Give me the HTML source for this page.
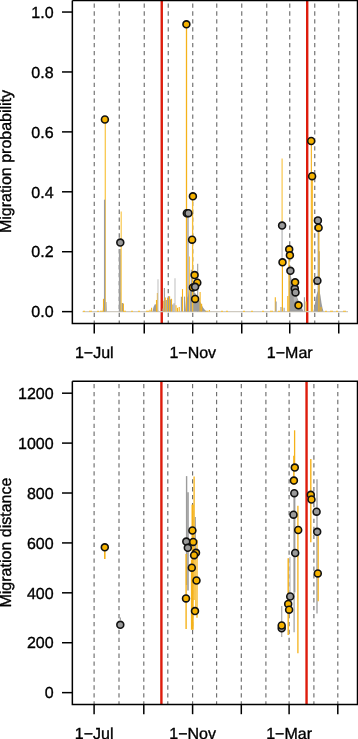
<!DOCTYPE html>
<html><head><meta charset="utf-8"><style>
html,body{margin:0;padding:0;background:#fff;}
svg{display:block;}
text{font-family:"Liberation Sans", sans-serif;font-size:16px;fill:#000;stroke:#000;stroke-width:0.35px;}
svg{text-rendering:geometricPrecision;will-change:transform;}
</style></head><body>
<svg width="358" height="739" viewBox="0 0 358 739">
<rect width="358" height="739" fill="#fff"/>
<line x1="94.25" y1="0.4" x2="94.25" y2="323.6" stroke="#6e6e6e" stroke-width="1.15" stroke-dasharray="4.3 3.63" stroke-dashoffset="4.93"/>
<line x1="119.25" y1="0.4" x2="119.25" y2="323.6" stroke="#6e6e6e" stroke-width="1.15" stroke-dasharray="4.3 3.63" stroke-dashoffset="4.93"/>
<line x1="144.25" y1="0.4" x2="144.25" y2="323.6" stroke="#6e6e6e" stroke-width="1.15" stroke-dasharray="4.3 3.63" stroke-dashoffset="4.93"/>
<line x1="168.25" y1="0.4" x2="168.25" y2="323.6" stroke="#6e6e6e" stroke-width="1.15" stroke-dasharray="4.3 3.63" stroke-dashoffset="4.93"/>
<line x1="192.75" y1="0.4" x2="192.75" y2="323.6" stroke="#6e6e6e" stroke-width="1.15" stroke-dasharray="4.3 3.63" stroke-dashoffset="4.93"/>
<line x1="216.75" y1="0.4" x2="216.75" y2="323.6" stroke="#6e6e6e" stroke-width="1.15" stroke-dasharray="4.3 3.63" stroke-dashoffset="4.93"/>
<line x1="241.75" y1="0.4" x2="241.75" y2="323.6" stroke="#6e6e6e" stroke-width="1.15" stroke-dasharray="4.3 3.63" stroke-dashoffset="4.93"/>
<line x1="266.75" y1="0.4" x2="266.75" y2="323.6" stroke="#6e6e6e" stroke-width="1.15" stroke-dasharray="4.3 3.63" stroke-dashoffset="4.93"/>
<line x1="289.75" y1="0.4" x2="289.75" y2="323.6" stroke="#6e6e6e" stroke-width="1.15" stroke-dasharray="4.3 3.63" stroke-dashoffset="4.93"/>
<line x1="314.75" y1="0.4" x2="314.75" y2="323.6" stroke="#6e6e6e" stroke-width="1.15" stroke-dasharray="4.3 3.63" stroke-dashoffset="4.93"/>
<line x1="338.75" y1="0.4" x2="338.75" y2="323.6" stroke="#6e6e6e" stroke-width="1.15" stroke-dasharray="4.3 3.63" stroke-dashoffset="4.93"/>
<line x1="94.10" y1="381.3" x2="94.10" y2="704.5" stroke="#6e6e6e" stroke-width="1.15" stroke-dasharray="4.3 3.63" stroke-dashoffset="5.23"/>
<line x1="119.00" y1="381.3" x2="119.00" y2="704.5" stroke="#6e6e6e" stroke-width="1.15" stroke-dasharray="4.3 3.63" stroke-dashoffset="5.23"/>
<line x1="143.80" y1="381.3" x2="143.80" y2="704.5" stroke="#6e6e6e" stroke-width="1.15" stroke-dasharray="4.3 3.63" stroke-dashoffset="5.23"/>
<line x1="167.80" y1="381.3" x2="167.80" y2="704.5" stroke="#6e6e6e" stroke-width="1.15" stroke-dasharray="4.3 3.63" stroke-dashoffset="5.23"/>
<line x1="192.60" y1="381.3" x2="192.60" y2="704.5" stroke="#6e6e6e" stroke-width="1.15" stroke-dasharray="4.3 3.63" stroke-dashoffset="5.23"/>
<line x1="216.60" y1="381.3" x2="216.60" y2="704.5" stroke="#6e6e6e" stroke-width="1.15" stroke-dasharray="4.3 3.63" stroke-dashoffset="5.23"/>
<line x1="241.30" y1="381.3" x2="241.30" y2="704.5" stroke="#6e6e6e" stroke-width="1.15" stroke-dasharray="4.3 3.63" stroke-dashoffset="5.23"/>
<line x1="265.90" y1="381.3" x2="265.90" y2="704.5" stroke="#6e6e6e" stroke-width="1.15" stroke-dasharray="4.3 3.63" stroke-dashoffset="5.23"/>
<line x1="289.10" y1="381.3" x2="289.10" y2="704.5" stroke="#6e6e6e" stroke-width="1.15" stroke-dasharray="4.3 3.63" stroke-dashoffset="5.23"/>
<line x1="313.90" y1="381.3" x2="313.90" y2="704.5" stroke="#6e6e6e" stroke-width="1.15" stroke-dasharray="4.3 3.63" stroke-dashoffset="5.23"/>
<line x1="337.80" y1="381.3" x2="337.80" y2="704.5" stroke="#6e6e6e" stroke-width="1.15" stroke-dasharray="4.3 3.63" stroke-dashoffset="5.23"/>
<line x1="161.75" y1="0.4" x2="161.75" y2="323.6" stroke="#DE1C0C" stroke-width="2.4"/>
<line x1="307.2" y1="0.4" x2="307.2" y2="323.6" stroke="#DE1C0C" stroke-width="2.4"/>
<line x1="161.4" y1="381.3" x2="161.4" y2="704.5" stroke="#DE1C0C" stroke-width="2.4"/>
<line x1="306.55" y1="381.3" x2="306.55" y2="704.5" stroke="#DE1C0C" stroke-width="2.4"/>
<line x1="82.5" y1="311.6" x2="348" y2="311.6" stroke="#cfcac0" stroke-width="1.3"/>
<line x1="83" y1="311.3" x2="85" y2="311.3" stroke="#f3c24a" stroke-width="1.2"/>
<line x1="89" y1="311.3" x2="92" y2="311.3" stroke="#f3c24a" stroke-width="1.2"/>
<line x1="97" y1="311.3" x2="99" y2="311.3" stroke="#f3c24a" stroke-width="1.2"/>
<line x1="100" y1="311.3" x2="103" y2="311.3" stroke="#f3c24a" stroke-width="1.2"/>
<line x1="123" y1="311.3" x2="126" y2="311.3" stroke="#f3c24a" stroke-width="1.2"/>
<line x1="131" y1="311.3" x2="133" y2="311.3" stroke="#f3c24a" stroke-width="1.2"/>
<line x1="138" y1="311.3" x2="140" y2="311.3" stroke="#f3c24a" stroke-width="1.2"/>
<line x1="146" y1="311.3" x2="149" y2="311.3" stroke="#f3c24a" stroke-width="1.2"/>
<line x1="205" y1="311.3" x2="208" y2="311.3" stroke="#f3c24a" stroke-width="1.2"/>
<line x1="221" y1="311.3" x2="223" y2="311.3" stroke="#f3c24a" stroke-width="1.2"/>
<line x1="226" y1="311.3" x2="228" y2="311.3" stroke="#f3c24a" stroke-width="1.2"/>
<line x1="243" y1="311.3" x2="245" y2="311.3" stroke="#f3c24a" stroke-width="1.2"/>
<line x1="251" y1="311.3" x2="253" y2="311.3" stroke="#f3c24a" stroke-width="1.2"/>
<line x1="262" y1="311.3" x2="264" y2="311.3" stroke="#f3c24a" stroke-width="1.2"/>
<line x1="270" y1="311.3" x2="273" y2="311.3" stroke="#f3c24a" stroke-width="1.2"/>
<line x1="278" y1="311.3" x2="280" y2="311.3" stroke="#f3c24a" stroke-width="1.2"/>
<line x1="325" y1="311.3" x2="327" y2="311.3" stroke="#f3c24a" stroke-width="1.2"/>
<line x1="330" y1="311.3" x2="333" y2="311.3" stroke="#f3c24a" stroke-width="1.2"/>
<line x1="336" y1="311.3" x2="338" y2="311.3" stroke="#f3c24a" stroke-width="1.2"/>
<line x1="343" y1="311.3" x2="346" y2="311.3" stroke="#f3c24a" stroke-width="1.2"/>
<polygon points="102.8,311.6 103.2,302.0 106.5,302.0 106.8,311.6" fill="#9c9c9c"/>
<polygon points="118.8,311.6 118.9,249.0 120.9,249.0 121.0,311.6" fill="#9c9c9c"/>
<polygon points="121.0,311.6 121.3,303.0 123.0,303.0 123.3,311.6" fill="#9c9c9c"/>
<polygon points="152.5,311.6 153.5,307.0 155.0,304.0 156.5,305.0 157.5,308.0 158.5,311.6" fill="#9c9c9c"/>
<polygon points="185.0,311.6 186.0,300.0 188.0,296.0 189.0,290.0 190.0,288.0 191.0,286.5 192.0,287.0 193.0,289.0 194.0,292.0 195.0,293.0 196.0,294.0 197.0,295.5 198.0,297.5 199.0,299.5 200.0,301.5 201.0,303.5 202.0,305.5 203.0,307.5 204.5,309.5 206.5,311.6" fill="#9c9c9c"/>
<polygon points="288.8,311.6 289.2,276.0 290.5,274.6 291.5,279.0 292.5,284.0 293.5,287.0 295.0,290.0 296.0,294.0 297.0,297.0 298.0,299.5 299.0,301.5 300.0,303.5 301.0,305.5 302.0,308.0 303.5,311.6" fill="#9c9c9c"/>
<polygon points="313.5,311.6 314.5,306.0 315.5,300.0 316.5,295.0 317.5,292.0 318.5,290.0 319.5,291.0 320.5,296.0 321.5,303.0 322.5,308.0 323.5,311.6" fill="#9c9c9c"/>
<polygon points="293.0,290.0 296.0,290.0 297.0,300.0 294.0,302.0" fill="#b4b4b4"/>
<line x1="103.50" y1="311.60" x2="103.50" y2="298.80" stroke="#F5B21A" stroke-width="1.1"/>
<line x1="150.00" y1="311.60" x2="150.00" y2="309.70" stroke="#F5B21A" stroke-width="1.1"/>
<line x1="151.60" y1="311.60" x2="151.60" y2="307.80" stroke="#F5B21A" stroke-width="1.1"/>
<line x1="156.50" y1="311.60" x2="156.50" y2="300.00" stroke="#F5B21A" stroke-width="1.1"/>
<line x1="157.40" y1="311.60" x2="157.40" y2="293.00" stroke="#F5B21A" stroke-width="1.1"/>
<line x1="158.00" y1="311.60" x2="158.00" y2="279.20" stroke="#c4c4c4" stroke-width="1.1"/>
<line x1="162.90" y1="311.60" x2="162.90" y2="308.40" stroke="#9c9c9c" stroke-width="1.1"/>
<line x1="163.80" y1="311.60" x2="163.80" y2="300.70" stroke="#F5B21A" stroke-width="1.1"/>
<line x1="164.40" y1="311.60" x2="164.40" y2="287.90" stroke="#9c9c9c" stroke-width="1.1"/>
<line x1="165.30" y1="311.60" x2="165.30" y2="297.50" stroke="#F5B21A" stroke-width="1.1"/>
<line x1="166.30" y1="311.60" x2="166.30" y2="300.00" stroke="#9c9c9c" stroke-width="1.1"/>
<line x1="167.60" y1="311.60" x2="167.60" y2="298.10" stroke="#F5B21A" stroke-width="1.1"/>
<line x1="168.50" y1="311.60" x2="168.50" y2="296.20" stroke="#9c9c9c" stroke-width="1.1"/>
<line x1="169.60" y1="311.60" x2="169.60" y2="296.20" stroke="#F5B21A" stroke-width="1.1"/>
<line x1="170.50" y1="311.60" x2="170.50" y2="299.40" stroke="#9c9c9c" stroke-width="1.1"/>
<line x1="171.50" y1="311.60" x2="171.50" y2="298.80" stroke="#F5B21A" stroke-width="1.1"/>
<line x1="172.80" y1="311.60" x2="172.80" y2="304.60" stroke="#9c9c9c" stroke-width="1.1"/>
<line x1="174.10" y1="311.60" x2="174.10" y2="303.30" stroke="#9c9c9c" stroke-width="1.1"/>
<line x1="175.00" y1="311.60" x2="175.00" y2="278.20" stroke="#c4c4c4" stroke-width="1.1"/>
<line x1="176.00" y1="311.60" x2="176.00" y2="305.20" stroke="#F5B21A" stroke-width="1.1"/>
<line x1="177.50" y1="311.60" x2="177.50" y2="307.80" stroke="#F5B21A" stroke-width="1.1"/>
<line x1="179.20" y1="311.60" x2="179.20" y2="307.10" stroke="#F5B21A" stroke-width="1.1"/>
<line x1="181.40" y1="311.60" x2="181.40" y2="296.80" stroke="#9c9c9c" stroke-width="1.1"/>
<line x1="182.50" y1="311.60" x2="182.50" y2="289.10" stroke="#F5B21A" stroke-width="1.1"/>
<line x1="184.50" y1="311.60" x2="184.50" y2="296.60" stroke="#9c9c9c" stroke-width="1.1"/>
<line x1="200.10" y1="311.60" x2="200.10" y2="292.00" stroke="#F5B21A" stroke-width="1.1"/>
<line x1="201.60" y1="311.60" x2="201.60" y2="303.80" stroke="#F5B21A" stroke-width="1.1"/>
<line x1="209.30" y1="311.60" x2="209.30" y2="310.00" stroke="#F5B21A" stroke-width="1.1"/>
<line x1="123.40" y1="311.60" x2="123.40" y2="303.60" stroke="#F5B21A" stroke-width="1.1"/>
<line x1="275.30" y1="311.60" x2="275.30" y2="297.30" stroke="#F5B21A" stroke-width="1.1"/>
<line x1="276.10" y1="311.60" x2="276.10" y2="301.60" stroke="#9c9c9c" stroke-width="1.1"/>
<line x1="281.00" y1="311.60" x2="281.00" y2="307.00" stroke="#9c9c9c" stroke-width="1.1"/>
<line x1="284.10" y1="311.60" x2="284.10" y2="307.80" stroke="#9c9c9c" stroke-width="1.1"/>
<line x1="287.80" y1="311.60" x2="287.80" y2="296.10" stroke="#F5B21A" stroke-width="1.1"/>
<line x1="304.40" y1="311.60" x2="304.40" y2="297.30" stroke="#9c9c9c" stroke-width="1.1"/>
<line x1="306.10" y1="311.60" x2="306.10" y2="301.50" stroke="#F5B21A" stroke-width="1.1"/>
<line x1="321.00" y1="311.60" x2="321.00" y2="307.00" stroke="#F5B21A" stroke-width="1.1"/>
<line x1="191.30" y1="311.60" x2="191.30" y2="269.80" stroke="#9c9c9c" stroke-width="1.1"/>
<line x1="189.50" y1="311.60" x2="189.50" y2="256.50" stroke="#F9C84E" stroke-width="1.1"/>
<line x1="197.70" y1="311.60" x2="197.70" y2="263.70" stroke="#9c9c9c" stroke-width="1.1"/>
<line x1="319.30" y1="311.60" x2="319.30" y2="251.20" stroke="#9c9c9c" stroke-width="1.1"/>
<line x1="105.30" y1="311.60" x2="105.30" y2="119.50" stroke="#F9C84E" stroke-width="1.3"/>
<line x1="104.60" y1="311.60" x2="104.60" y2="199.70" stroke="#9c9c9c" stroke-width="1.3"/>
<line x1="121.20" y1="311.60" x2="121.20" y2="211.40" stroke="#F9C84E" stroke-width="1.2"/>
<line x1="186.50" y1="311.60" x2="186.50" y2="24.32" stroke="#F5B21A" stroke-width="1.3"/>
<line x1="188.00" y1="311.60" x2="188.00" y2="213.10" stroke="#9c9c9c" stroke-width="1.3"/>
<line x1="192.60" y1="311.60" x2="192.60" y2="196.50" stroke="#F7BE35" stroke-width="1.3"/>
<line x1="311.35" y1="311.60" x2="311.35" y2="141.00" stroke="#F5B21A" stroke-width="1.1"/>
<line x1="312.45" y1="311.60" x2="312.45" y2="176.20" stroke="#F8C040" stroke-width="1.2"/>
<line x1="282.10" y1="262.00" x2="282.10" y2="225.60" stroke="#c4c4c4" stroke-width="1.5"/>
<line x1="282.10" y1="225.60" x2="282.10" y2="158.60" stroke="#F9C84E" stroke-width="1.2"/>
<line x1="282.40" y1="311.60" x2="282.40" y2="262.30" stroke="#F5B21A" stroke-width="1.2"/>
<line x1="289.00" y1="311.60" x2="289.00" y2="249.30" stroke="#F5B21A" stroke-width="1.2"/>
<line x1="318.20" y1="311.60" x2="318.20" y2="220.80" stroke="#9c9c9c" stroke-width="1.2"/>
<line x1="318.90" y1="311.60" x2="318.90" y2="227.90" stroke="#F5B21A" stroke-width="1.1"/>
<line x1="186.60" y1="476.10" x2="186.60" y2="585.00" stroke="#9c9c9c" stroke-width="1.4"/>
<line x1="188.00" y1="492.30" x2="188.00" y2="590.50" stroke="#9c9c9c" stroke-width="1.6"/>
<line x1="195.30" y1="516.90" x2="195.30" y2="560.00" stroke="#9c9c9c" stroke-width="1.1"/>
<line x1="120.30" y1="617.50" x2="120.30" y2="620.00" stroke="#9c9c9c" stroke-width="1.2"/>
<line x1="281.70" y1="606.00" x2="281.70" y2="637.00" stroke="#b0b0b0" stroke-width="1.3"/>
<line x1="290.00" y1="557.10" x2="290.00" y2="600.00" stroke="#c4c4c4" stroke-width="1.4"/>
<line x1="294.40" y1="493.00" x2="294.40" y2="592.40" stroke="#9c9c9c" stroke-width="2.0"/>
<line x1="294.10" y1="592.40" x2="294.10" y2="632.30" stroke="#9c9c9c" stroke-width="1.2"/>
<line x1="317.00" y1="479.20" x2="317.00" y2="613.40" stroke="#9c9c9c" stroke-width="1.3"/>
<line x1="104.80" y1="547.30" x2="104.80" y2="558.90" stroke="#F5B21A" stroke-width="1.6"/>
<line x1="194.10" y1="476.60" x2="194.10" y2="600.00" stroke="#F5B21A" stroke-width="1.3"/>
<line x1="192.60" y1="504.60" x2="192.60" y2="629.70" stroke="#F5B21A" stroke-width="2.2"/>
<line x1="191.50" y1="560.00" x2="191.50" y2="629.70" stroke="#F5B21A" stroke-width="1.2"/>
<line x1="186.10" y1="553.90" x2="186.10" y2="629.00" stroke="#F5B21A" stroke-width="1.4"/>
<line x1="197.00" y1="540.00" x2="197.00" y2="617.80" stroke="#F5B21A" stroke-width="1.3"/>
<line x1="195.60" y1="560.00" x2="195.60" y2="612.00" stroke="#F9C84E" stroke-width="1.2"/>
<line x1="294.60" y1="430.30" x2="294.60" y2="470.00" stroke="#F5B21A" stroke-width="1.3"/>
<line x1="293.90" y1="455.70" x2="293.90" y2="485.00" stroke="#F5B21A" stroke-width="1.5"/>
<line x1="297.90" y1="505.70" x2="297.90" y2="653.20" stroke="#F5B21A" stroke-width="1.3"/>
<line x1="288.20" y1="558.20" x2="288.20" y2="635.00" stroke="#F5B21A" stroke-width="1.4"/>
<line x1="310.80" y1="458.90" x2="310.80" y2="542.30" stroke="#F5B21A" stroke-width="1.4"/>
<line x1="318.20" y1="536.00" x2="318.20" y2="601.20" stroke="#F5B21A" stroke-width="1.2"/>
<polyline points="72.35,0.4 357.5,0.4 357.5,323.6 72.35,323.6 72.35,0.4" fill="none" stroke="#000" stroke-width="1.5"/>
<polyline points="72.35,381.3 357.5,381.3 357.5,704.5 72.35,704.5 72.35,381.3" fill="none" stroke="#000" stroke-width="1.5"/>
<line x1="62" y1="311.64" x2="72.35" y2="311.64" stroke="#000" stroke-width="1.5"/>
<text x="53.6" y="317.34" text-anchor="end">0.0</text>
<line x1="62" y1="251.72" x2="72.35" y2="251.72" stroke="#000" stroke-width="1.5"/>
<text x="53.6" y="257.42" text-anchor="end">0.2</text>
<line x1="62" y1="191.80" x2="72.35" y2="191.80" stroke="#000" stroke-width="1.5"/>
<text x="53.6" y="197.50" text-anchor="end">0.4</text>
<line x1="62" y1="131.88" x2="72.35" y2="131.88" stroke="#000" stroke-width="1.5"/>
<text x="53.6" y="137.58" text-anchor="end">0.6</text>
<line x1="62" y1="71.96" x2="72.35" y2="71.96" stroke="#000" stroke-width="1.5"/>
<text x="53.6" y="77.66" text-anchor="end">0.8</text>
<line x1="62" y1="12.04" x2="72.35" y2="12.04" stroke="#000" stroke-width="1.5"/>
<text x="53.6" y="17.74" text-anchor="end">1.0</text>
<line x1="62" y1="692.64" x2="72.35" y2="692.64" stroke="#000" stroke-width="1.5"/>
<text x="53.6" y="698.34" text-anchor="end">0</text>
<line x1="62" y1="642.73" x2="72.35" y2="642.73" stroke="#000" stroke-width="1.5"/>
<text x="53.6" y="648.43" text-anchor="end">200</text>
<line x1="62" y1="592.82" x2="72.35" y2="592.82" stroke="#000" stroke-width="1.5"/>
<text x="53.6" y="598.52" text-anchor="end">400</text>
<line x1="62" y1="542.92" x2="72.35" y2="542.92" stroke="#000" stroke-width="1.5"/>
<text x="53.6" y="548.62" text-anchor="end">600</text>
<line x1="62" y1="493.01" x2="72.35" y2="493.01" stroke="#000" stroke-width="1.5"/>
<text x="53.6" y="498.71" text-anchor="end">800</text>
<line x1="62" y1="443.10" x2="72.35" y2="443.10" stroke="#000" stroke-width="1.5"/>
<text x="53.6" y="448.80" text-anchor="end">1000</text>
<line x1="62" y1="393.19" x2="72.35" y2="393.19" stroke="#000" stroke-width="1.5"/>
<text x="53.6" y="398.89" text-anchor="end">1200</text>
<line x1="94.25" y1="323.6" x2="94.25" y2="333.5" stroke="#000" stroke-width="1.5"/>
<line x1="94.10" y1="704.5" x2="94.10" y2="714.2" stroke="#000" stroke-width="1.5"/>
<line x1="144.25" y1="323.6" x2="144.25" y2="333.5" stroke="#000" stroke-width="1.5"/>
<line x1="143.80" y1="704.5" x2="143.80" y2="714.2" stroke="#000" stroke-width="1.5"/>
<line x1="192.75" y1="323.6" x2="192.75" y2="333.5" stroke="#000" stroke-width="1.5"/>
<line x1="192.60" y1="704.5" x2="192.60" y2="714.2" stroke="#000" stroke-width="1.5"/>
<line x1="241.75" y1="323.6" x2="241.75" y2="333.5" stroke="#000" stroke-width="1.5"/>
<line x1="241.30" y1="704.5" x2="241.30" y2="714.2" stroke="#000" stroke-width="1.5"/>
<line x1="289.75" y1="323.6" x2="289.75" y2="333.5" stroke="#000" stroke-width="1.5"/>
<line x1="289.10" y1="704.5" x2="289.10" y2="714.2" stroke="#000" stroke-width="1.5"/>
<line x1="338.75" y1="323.6" x2="338.75" y2="333.5" stroke="#000" stroke-width="1.5"/>
<line x1="337.80" y1="704.5" x2="337.80" y2="714.2" stroke="#000" stroke-width="1.5"/>
<text x="94.25" y="357.8" text-anchor="middle">1−Jul</text>
<text x="94.10" y="738.5" text-anchor="middle">1−Jul</text>
<text x="192.75" y="357.8" text-anchor="middle">1−Nov</text>
<text x="192.60" y="738.5" text-anchor="middle">1−Nov</text>
<text x="289.75" y="357.8" text-anchor="middle">1−Mar</text>
<text x="289.10" y="738.5" text-anchor="middle">1−Mar</text>
<text transform="translate(11.1,161.5) rotate(-90)" text-anchor="middle">Migration probability</text>
<text transform="translate(11.2,542.6) rotate(-90)" text-anchor="middle">Migration distance</text>
<circle cx="104.90" cy="119.50" r="3.45" fill="#F6B300" stroke="#111" stroke-width="1.6"/>
<circle cx="120.30" cy="242.60" r="3.45" fill="#9a9a9a" stroke="#111" stroke-width="1.6"/>
<circle cx="186.40" cy="24.30" r="3.45" fill="#F6B300" stroke="#111" stroke-width="1.6"/>
<circle cx="192.90" cy="196.30" r="3.45" fill="#F6B300" stroke="#111" stroke-width="1.6"/>
<circle cx="186.80" cy="213.20" r="3.45" fill="#9a9a9a" stroke="#111" stroke-width="1.6"/>
<circle cx="188.40" cy="213.20" r="3.45" fill="#9a9a9a" stroke="#111" stroke-width="1.6"/>
<circle cx="192.10" cy="239.70" r="3.45" fill="#F6B300" stroke="#111" stroke-width="1.6"/>
<circle cx="194.60" cy="275.10" r="3.45" fill="#F6B300" stroke="#111" stroke-width="1.6"/>
<circle cx="197.30" cy="282.70" r="3.45" fill="#F6B300" stroke="#111" stroke-width="1.6"/>
<circle cx="192.90" cy="287.40" r="3.45" fill="#F6B300" stroke="#111" stroke-width="1.6"/>
<circle cx="195.10" cy="286.80" r="3.45" fill="#9a9a9a" stroke="#111" stroke-width="1.6"/>
<circle cx="195.10" cy="298.90" r="3.45" fill="#F6B300" stroke="#111" stroke-width="1.6"/>
<circle cx="311.20" cy="141.00" r="3.45" fill="#F6B300" stroke="#111" stroke-width="1.6"/>
<circle cx="312.10" cy="176.20" r="3.45" fill="#F6B300" stroke="#111" stroke-width="1.6"/>
<circle cx="282.10" cy="225.60" r="3.45" fill="#9a9a9a" stroke="#111" stroke-width="1.6"/>
<circle cx="317.90" cy="220.40" r="3.45" fill="#9a9a9a" stroke="#111" stroke-width="1.6"/>
<circle cx="318.60" cy="227.70" r="3.45" fill="#F6B300" stroke="#111" stroke-width="1.6"/>
<circle cx="289.20" cy="249.30" r="3.45" fill="#F6B300" stroke="#111" stroke-width="1.6"/>
<circle cx="289.90" cy="255.30" r="3.45" fill="#F6B300" stroke="#111" stroke-width="1.6"/>
<circle cx="282.50" cy="262.30" r="3.45" fill="#F6B300" stroke="#111" stroke-width="1.6"/>
<circle cx="290.40" cy="270.80" r="3.45" fill="#9a9a9a" stroke="#111" stroke-width="1.6"/>
<circle cx="317.40" cy="280.70" r="3.45" fill="#9a9a9a" stroke="#111" stroke-width="1.6"/>
<circle cx="294.80" cy="288.60" r="3.45" fill="#9a9a9a" stroke="#111" stroke-width="1.6"/>
<circle cx="295.50" cy="292.40" r="3.45" fill="#9a9a9a" stroke="#111" stroke-width="1.6"/>
<circle cx="295.10" cy="282.30" r="3.45" fill="#F6B300" stroke="#111" stroke-width="1.6"/>
<circle cx="298.50" cy="305.30" r="3.45" fill="#F6B300" stroke="#111" stroke-width="1.6"/>
<circle cx="104.80" cy="547.30" r="3.45" fill="#F6B300" stroke="#111" stroke-width="1.6"/>
<circle cx="120.30" cy="624.80" r="3.45" fill="#9a9a9a" stroke="#111" stroke-width="1.6"/>
<circle cx="186.30" cy="541.60" r="3.45" fill="#9a9a9a" stroke="#111" stroke-width="1.6"/>
<circle cx="187.80" cy="547.80" r="3.45" fill="#9a9a9a" stroke="#111" stroke-width="1.6"/>
<circle cx="192.40" cy="530.50" r="3.45" fill="#F6B300" stroke="#111" stroke-width="1.6"/>
<circle cx="193.20" cy="541.90" r="3.45" fill="#F6B300" stroke="#111" stroke-width="1.6"/>
<circle cx="196.00" cy="552.80" r="3.45" fill="#F6B300" stroke="#111" stroke-width="1.6"/>
<circle cx="194.10" cy="555.20" r="3.45" fill="#F6B300" stroke="#111" stroke-width="1.6"/>
<circle cx="191.80" cy="567.70" r="3.45" fill="#F6B300" stroke="#111" stroke-width="1.6"/>
<circle cx="196.50" cy="580.50" r="3.45" fill="#F6B300" stroke="#111" stroke-width="1.6"/>
<circle cx="186.00" cy="598.40" r="3.45" fill="#F6B300" stroke="#111" stroke-width="1.6"/>
<circle cx="195.00" cy="611.10" r="3.45" fill="#F6B300" stroke="#111" stroke-width="1.6"/>
<circle cx="294.80" cy="467.60" r="3.45" fill="#F6B300" stroke="#111" stroke-width="1.6"/>
<circle cx="293.90" cy="480.60" r="3.45" fill="#F6B300" stroke="#111" stroke-width="1.6"/>
<circle cx="294.30" cy="493.20" r="3.45" fill="#9a9a9a" stroke="#111" stroke-width="1.6"/>
<circle cx="293.50" cy="514.70" r="3.45" fill="#9a9a9a" stroke="#111" stroke-width="1.6"/>
<circle cx="298.20" cy="530.00" r="3.45" fill="#F6B300" stroke="#111" stroke-width="1.6"/>
<circle cx="295.20" cy="553.00" r="3.45" fill="#9a9a9a" stroke="#111" stroke-width="1.6"/>
<circle cx="290.20" cy="596.50" r="3.45" fill="#9a9a9a" stroke="#111" stroke-width="1.6"/>
<circle cx="288.20" cy="603.90" r="3.45" fill="#F6B300" stroke="#111" stroke-width="1.6"/>
<circle cx="289.10" cy="609.70" r="3.45" fill="#F6B300" stroke="#111" stroke-width="1.6"/>
<circle cx="281.70" cy="628.30" r="3.45" fill="#9a9a9a" stroke="#111" stroke-width="1.6"/>
<circle cx="281.70" cy="625.50" r="3.45" fill="#F6B300" stroke="#111" stroke-width="1.6"/>
<circle cx="310.80" cy="494.80" r="3.45" fill="#F6B300" stroke="#111" stroke-width="1.6"/>
<circle cx="311.50" cy="499.50" r="3.45" fill="#F6B300" stroke="#111" stroke-width="1.6"/>
<circle cx="316.60" cy="511.70" r="3.45" fill="#9a9a9a" stroke="#111" stroke-width="1.6"/>
<circle cx="317.20" cy="531.80" r="3.45" fill="#9a9a9a" stroke="#111" stroke-width="1.6"/>
<circle cx="317.80" cy="573.40" r="3.45" fill="#F6B300" stroke="#111" stroke-width="1.6"/>
</svg></body></html>
